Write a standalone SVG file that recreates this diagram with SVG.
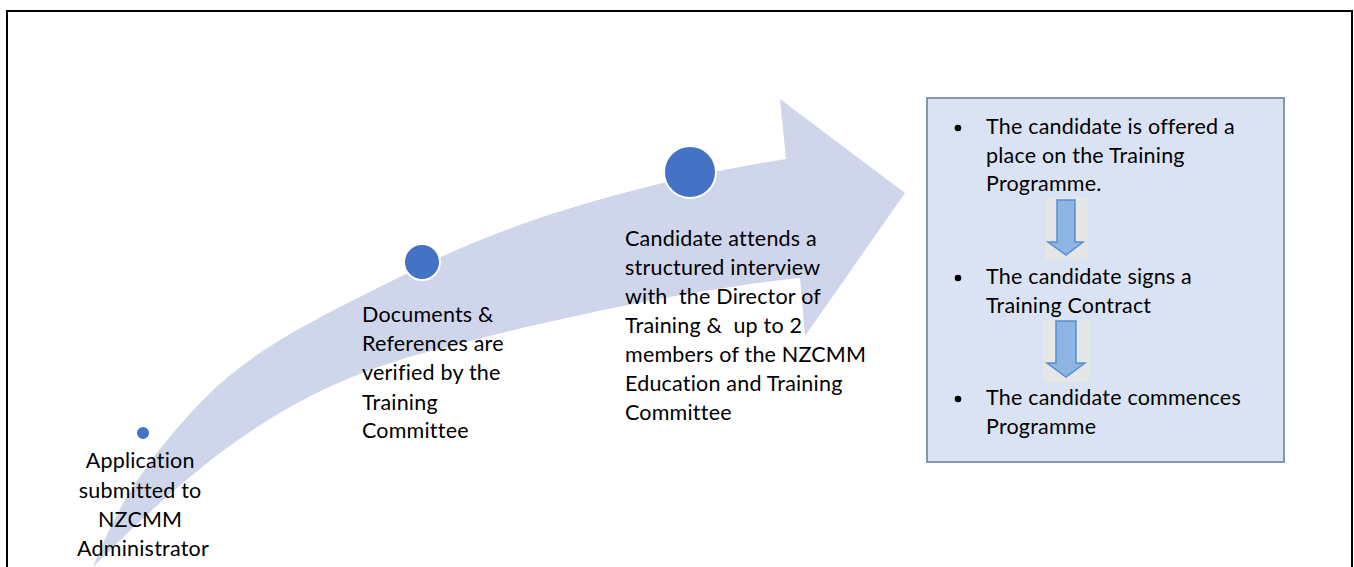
<svg xmlns="http://www.w3.org/2000/svg" width="1354" height="567" viewBox="0 0 1354 567">
  <defs>
    <style>
      .lbl { font-family: Lato, "Liberation Sans", sans-serif; font-size: 21.5px; letter-spacing: 0.2px; fill: #000; }
      .dot { fill: #4472C4; stroke: #FFFFFF; stroke-width: 2; }
      .down { fill: #8EB4E3; stroke: #558ED5; stroke-width: 1.5; }
      .downbg { fill: #E7E6E6; }
    </style>
  </defs>

  <rect x="0" y="0" width="1354" height="567" fill="#FFFFFF"/>

  <!-- page frame -->
  <path d="M7 567 V11 H1352 V567" fill="none" stroke="#000000" stroke-width="2"/>

  <!-- curved progress arrow -->
  <g id="connectors">
    <path id="progress-arrow" fill="#CFD5EA"
      d="M93 567 C120 500, 150 455, 203 400 S330 312, 422 266 S650 180, 786 159
         L780 99 L905 193 L805 336 L800 278
         C700 288, 560 316, 420 354 S190 470, 93 567 Z"/>
  </g>

  <!-- step 1 -->
  <g id="step-application">
    <circle class="dot" cx="143" cy="433" r="7" stroke-width="0"/>
    <text class="lbl" text-anchor="middle">
      <tspan x="143" y="468">Application</tspan>
      <tspan x="143" y="498">submitted to</tspan>
      <tspan x="143" y="527">NZCMM</tspan>
      <tspan x="143" y="556">Administrator</tspan>
    </text>
  </g>

  <!-- step 2 -->
  <g id="step-verification">
    <circle class="dot" cx="422" cy="262" r="18"/>
    <text class="lbl">
      <tspan x="362" y="322">Documents &amp;</tspan>
      <tspan x="362" y="351">References are</tspan>
      <tspan x="362" y="380">verified by the</tspan>
      <tspan x="362" y="410">Training</tspan>
      <tspan x="362" y="438">Committee</tspan>
    </text>
  </g>

  <!-- step 3 -->
  <g id="step-interview">
    <circle class="dot" cx="690" cy="172" r="26"/>
    <text class="lbl" xml:space="preserve">
      <tspan x="625" y="246">Candidate attends a</tspan>
      <tspan x="625" y="275">structured interview</tspan>
      <tspan x="625" y="304">with  the Director of</tspan>
      <tspan x="625" y="333">Training &amp;  up to 2</tspan>
      <tspan x="625" y="362">members of the NZCMM</tspan>
      <tspan x="625" y="391">Education and Training</tspan>
      <tspan x="625" y="420">Committee</tspan>
    </text>
  </g>

  <!-- outcome box -->
  <g id="step-outcome">
    <rect x="927" y="98" width="357" height="364" fill="#DAE3F3" stroke="#8497B0" stroke-width="2"/>
    <circle cx="958" cy="128" r="3.3" fill="#000"/>
    <circle cx="958" cy="278" r="3.3" fill="#000"/>
    <circle cx="958" cy="399" r="3.3" fill="#000"/>
    <text class="lbl">
      <tspan x="986" y="134">The candidate is offered a</tspan>
      <tspan x="986" y="163">place on the Training</tspan>
      <tspan x="986" y="191">Programme.</tspan>
      <tspan x="986" y="284">The candidate signs a</tspan>
      <tspan x="986" y="313">Training Contract</tspan>
      <tspan x="986" y="405">The candidate commences</tspan>
      <tspan x="986" y="434">Programme</tspan>
    </text>
    <rect class="downbg" x="1045" y="198" width="43" height="62"/>
    <path class="down" d="M1057 200 H1075 V242 H1083 L1066 255 L1048 242 H1057 Z"/>
    <rect class="downbg" x="1043" y="320" width="46" height="62"/>
    <path class="down" d="M1056 321 H1076 V363 H1085 L1066 377 L1047 363 H1056 Z"/>
  </g>
</svg>
